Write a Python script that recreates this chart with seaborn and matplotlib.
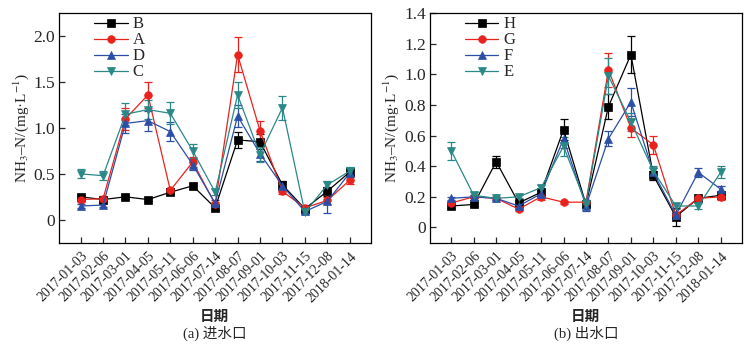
import matplotlib
matplotlib.use("Agg")
import matplotlib.pyplot as plt
import seaborn as sns
import pandas as pd
import numpy as np

dates = ["2017-01-03", "2017-02-06", "2017-03-01", "2017-04-05", "2017-05-11",
         "2017-06-06", "2017-07-14", "2017-08-07", "2017-09-01", "2017-10-03",
         "2017-11-15", "2017-12-08", "2018-01-14"]

# (a) inlet
in_B = [0.25, 0.22, 0.25, 0.22, 0.30, 0.37, 0.13, 0.87, 0.85, 0.38, 0.12, 0.31, 0.52]
in_A = [0.22, 0.23, 1.10, 1.36, 0.32, 0.63, 0.17, 1.80, 0.97, 0.31, 0.13, 0.21, 0.43]
in_D = [0.15, 0.16, 1.05, 1.08, 0.96, 0.60, 0.18, 1.13, 0.72, 0.37, 0.09, 0.20, 0.51]
in_C = [0.50, 0.48, 1.15, 1.20, 1.16, 0.75, 0.30, 1.36, 0.71, 1.22, 0.08, 0.38, 0.53]
in_B_err = [0.02, 0.02, 0.02, 0.02, 0.02, 0.03, 0.02, 0.09, 0.08, 0.04, 0.02, 0.05, 0.03]
in_A_err = [0.03, 0.03, 0.12, 0.14, 0.03, 0.05, 0.02, 0.19, 0.11, 0.03, 0.02, 0.04, 0.04]
in_D_err = [0.02, 0.02, 0.10, 0.11, 0.10, 0.06, 0.03, 0.12, 0.08, 0.04, 0.02, 0.13, 0.04]
in_C_err = [0.05, 0.05, 0.12, 0.10, 0.12, 0.08, 0.03, 0.14, 0.08, 0.13, 0.02, 0.04, 0.04]

# (b) outlet
out_H = [0.14, 0.15, 0.43, 0.16, 0.23, 0.64, 0.15, 0.79, 1.13, 0.34, 0.07, 0.19, 0.21]
out_G = [0.16, 0.20, 0.19, 0.12, 0.20, 0.165, 0.165, 1.03, 0.65, 0.54, 0.08, 0.19, 0.20]
out_F = [0.19, 0.20, 0.19, 0.14, 0.22, 0.58, 0.14, 0.58, 0.82, 0.36, 0.08, 0.36, 0.25]
out_E = [0.50, 0.21, 0.19, 0.20, 0.26, 0.53, 0.155, 0.99, 0.69, 0.37, 0.14, 0.14, 0.36]
out_H_err = [0.01, 0.01, 0.04, 0.02, 0.02, 0.07, 0.02, 0.08, 0.12, 0.03, 0.06, 0.01, 0.02]
out_G_err = [0.01, 0.01, 0.01, 0.01, 0.02, 0.01, 0.01, 0.11, 0.06, 0.06, 0.02, 0.01, 0.02]
out_F_err = [0.01, 0.01, 0.01, 0.01, 0.02, 0.06, 0.03, 0.05, 0.09, 0.03, 0.02, 0.03, 0.02]
out_E_err = [0.06, 0.02, 0.01, 0.01, 0.02, 0.06, 0.02, 0.12, 0.06, 0.03, 0.02, 0.02, 0.04]

colors = ["#000000", "#e8231d", "#2b4ea6", "#2a8886"]
markers = ["s", "o", "^", "v"]

sns.set_style("ticks")
plt.rcParams["font.family"] = ["Liberation Serif", "Noto Sans CJK SC"]
plt.rcParams["mathtext.fontset"] = "stix"

fig = plt.figure(figsize=(7.53, 3.47), dpi=100)
ax1 = fig.add_axes([0.0788, 0.3006, 0.4139, 0.6611])
ax2 = fig.add_axes([0.5710, 0.3006, 0.4144, 0.6611])

panels = [
    (ax1, ["B", "A", "D", "C"], [in_B, in_A, in_D, in_C],
     [in_B_err, in_A_err, in_D_err, in_C_err], (-0.25, 2.25),
     [0, 0.5, 1.0, 1.5, 2.0], ["0", "0.5", "1.0", "1.5", "2.0"]),
    (ax2, ["H", "G", "F", "E"], [out_H, out_G, out_F, out_E],
     [out_H_err, out_G_err, out_F_err, out_E_err], (-0.1, 1.4),
     [0, 0.2, 0.4, 0.6, 0.8, 1.0, 1.2, 1.4],
     ["0", "0.2", "0.4", "0.6", "0.8", "1.0", "1.2", "1.4"]),
]

xpos = list(range(len(dates)))
for ax, names, series, errs, ylim, yt, ytl in panels:
    for name, vals, err, c, m in zip(names, series, errs, colors, markers):
        df = pd.DataFrame({"x": xpos, "y": vals})
        ax.errorbar(xpos, vals, yerr=err, fmt="none", ecolor=c,
                    elinewidth=0.9, capsize=3, capthick=0.9, zorder=2)
        sns.lineplot(data=df, x="x", y="y", ax=ax, color=c, marker=m,
                     markersize=5.5, markeredgewidth=0.5, markeredgecolor=c,
                     linewidth=0.9, label=name, zorder=3)
    ax.set_xlim(-0.95, 12.95)
    ax.set_ylim(*ylim)
    ax.set_yticks(yt)
    ax.set_yticklabels(ytl, fontsize=12.5)
    ax.set_xticks(xpos)
    ax.set_xticklabels(dates, rotation=45, ha="right", rotation_mode="anchor",
                       fontsize=10)
    ax.tick_params(direction="in", length=4, width=0.9, pad=3)
    ax.tick_params(axis="x", pad=5)
    for s in ax.spines.values():
        s.set_linewidth(0.9)
        s.set_color("black")
    ax.set_xlabel("")
    ax.set_ylabel("NH$_3$–N/(mg·L$^{-1}$)", fontsize=11, labelpad=2)
    leg = ax.legend(loc="upper left", frameon=False, fontsize=12,
                    bbox_to_anchor=(0.08, 1.03), handlelength=2.0,
                    handletextpad=0.3, labelspacing=0.0, borderaxespad=0.2)

fig.text(0.285, 0.090, "日期", ha="center", va="center", fontsize=10.5,
         fontweight="bold", family=["Noto Sans CJK SC"])
fig.text(0.285, 0.040, "(a) 进水口", ha="center", va="center", fontsize=10.5)
fig.text(0.778, 0.090, "日期", ha="center", va="center", fontsize=10.5,
         fontweight="bold", family=["Noto Sans CJK SC"])
fig.text(0.778, 0.040, "(b) 出水口", ha="center", va="center", fontsize=10.5)

fig.savefig("out.png", dpi=100)
